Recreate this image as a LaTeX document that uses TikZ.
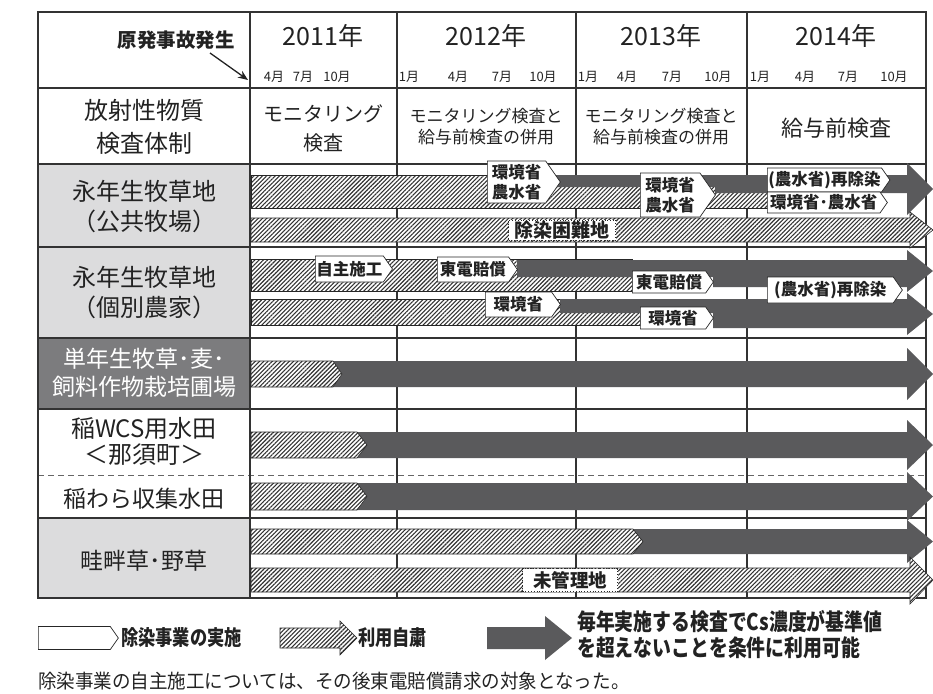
\documentclass[tikz,border=0pt]{standalone}
\usepackage{fontspec}
\setmainfont{Noto Sans CJK JP}
\newfontfamily\legfont{Noto Sans CJK JP}[FakeStretch=0.82]
\newfontfamily\footfont{Noto Sans CJK JP}[FakeStretch=0.95]
\usetikzlibrary{patterns.meta,shapes.symbols,arrows.meta}
\definecolor{dkg}{HTML}{5A5A5C}
\definecolor{ltg}{HTML}{DCDCDD}
\definecolor{mdg}{HTML}{7C7C7E}
\definecolor{txt}{HTML}{222222}
\newcommand{\fsz}[2]{\fontsize{#1}{#2}\selectfont}
\tikzset{
  gridline/.style={draw=black!80, line width=1.1pt},
  hatch/.style={draw=black!85, line width=0.6pt, preaction={fill=white},
    pattern={Lines[angle=45,distance=3pt,line width=1.1pt]}, pattern color=black!80},
  tag/.style={shape=signal, signal to=east, signal pointer angle=110, draw=black!85,
    line width=0.7pt, fill=white, align=center, inner sep=1pt, text=txt,
    font=\bfseries\fsz{16.5}{20}, anchor=west},
  lbox/.style={draw=black!85, dotted, line width=0.8pt, fill=white, text=txt,
    font=\bfseries\fsz{19}{20}, inner sep=0pt},
  yr/.style={font=\fsz{25}{28}, text=txt},
  mo/.style={font=\fsz{13}{14}, text=txt, inner sep=0pt},
  hd/.style={font=\fsz{24}{33}, text=txt, align=center},
  rl/.style={font=\fsz{24}{30}, text=txt, align=center},
  legt/.style={font=\legfont\bfseries\fsz{21}{24}, text=txt, inner sep=0pt, anchor=west},
}
\begin{document}
\begin{tikzpicture}[x=1pt,y=-1pt]
\useasboundingbox (0,0) rectangle (933,693);
% label column fills
\fill[ltg] (38,164) rectangle (250,338);
\fill[mdg] (38,338) rectangle (250,409);
\fill[ltg] (38,518) rectangle (250,598);
% grid
\foreach \y in {88,164,247,338,409,518} \draw[gridline] (38,\y) -- (926,\y);
\draw[black!60, line width=1pt, dash pattern=on 6pt off 4pt] (38,475) -- (926,475);
\foreach \x in {250,397,576,747} \draw[gridline] (\x,12) -- (\x,598);
\draw[gridline] (38,12) rectangle (926,598);
% header
\node[font=\bfseries\fsz{19.5}{22}, text=txt] (jiko) at (176,40) {原発事故発生};
\coordinate (accs) at (210,53);
\coordinate (acce) at (248,80);
\draw[-{Stealth[length=10pt,width=8pt]}, line width=1.3pt, txt] (accs) -- (acce);
\node[yr] (y11) at (323,36) {2011年};
\node[yr] (y12) at (486,36) {2012年};
\node[yr] (y13) at (661,36) {2013年};
\node[yr] (y14) at (836,36) {2014年};
\node[mo] (m1) at (274,77) {4月};
\node[mo] (m2) at (303,77) {7月};
\node[mo] (m3) at (337,77) {10月};
\node[mo] (m4) at (409,77) {1月};
\node[mo] (m5) at (458,77) {4月};
\node[mo] (m6) at (502,77) {7月};
\node[mo] (m7) at (543,77) {10月};
\node[mo] (m8) at (588,77) {1月};
\node[mo] (m9) at (627,77) {4月};
\node[mo] (m10) at (672,77) {7月};
\node[mo] (m11) at (718,77) {10月};
\node[mo] (m12) at (760,77) {1月};
\node[mo] (m13) at (805,77) {4月};
\node[mo] (m14) at (848,77) {7月};
\node[mo] (m15) at (894,77) {10月};
% inspection system row
\node[hd] (sys) at (144,127) {放射性物質\\検査体制};
\node[font=\fsz{20}{29}, text=txt, align=center] (s11) at (323,128) {モニタリング\\検査};
\node[font=\fsz{17}{21}, text=txt, align=center] (s12) at (486,127) {モニタリング検査と\\給与前検査の併用};
\node[font=\fsz{17}{21}, text=txt, align=center] (s13) at (661,127) {モニタリング検査と\\給与前検査の併用};
\node[font=\fsz{22}{26}, text=txt] (s14) at (836,128) {給与前検査};
% row labels
\node[rl] (r1) at (144,207) {永年生牧草地\\（公共牧場）};
\node[rl] (r2) at (144,292.5) {永年生牧草地\\（個別農家）};
\node[font=\fsz{23}{28}, text=white, align=center] (r3) at (144,373) {単年生牧草･麦･\\飼料作物栽培圃場};
\node[font=\fsz{24}{26}, text=txt, align=center] (r4) at (144,441) {稲WCS用水田\\＜那須町＞};
\node[font=\fsz{23}{26}, text=txt] (r5) at (144,499) {稲わら収集水田};
\node[font=\fsz{23}{26}, text=txt] (r6) at (144,561) {畦畔草･野草};
% ---- row 1 (public pasture)
\path[hatch] (251,175) rectangle (768,208);
\fill[dkg] (545,175) -- (907,175) -- (907,163) -- (933,189) -- (907,215) -- (907,193) -- (715,193) -- (715,187) -- (545,187) -- cycle;
\node[tag, minimum width=73, minimum height=42] (a1) at (487,182) {環境省\\農水省};
\node[tag, minimum width=75, minimum height=44] (a2) at (640,195) {環境省\\農水省};
\node[tag, minimum width=121, minimum height=24] (a3) at (767,180) {(農水省)再除染};
\node[tag, minimum width=120, minimum height=21] (a4) at (767,202.5) {環境省･農水省};
\path[hatch] (251,218) -- (910,218) -- (910,212) -- (933,230) -- (910,248) -- (910,242) -- (251,242) -- cycle;
\node[lbox, minimum width=107, minimum height=20] (konnan) at (562,230) {除染困難地};
% ---- row 2 (individual farms)
\path[hatch] (251,259) rectangle (632,291);
\fill[dkg] (517,260) -- (907,260) -- (907,250) -- (933,271) -- (907,292) -- (907,287) -- (713,287) -- (713,277) -- (517,277) -- cycle;
\path[hatch] (251,299) rectangle (640,325);
\fill[dkg] (560,299) -- (907,299) -- (907,293) -- (933,314) -- (907,335) -- (907,328) -- (713,328) -- (713,313) -- (560,313) -- cycle;
\node[tag, minimum width=75, minimum height=26] (b1) at (315,269) {自主施工};
\node[tag, minimum width=80, minimum height=25] (b2) at (437,269.5) {東電賠償};
\node[tag, minimum width=81, minimum height=22] (b3) at (632,282) {東電賠償};
\node[tag, minimum width=75, minimum height=25] (b4) at (485,304.5) {環境省};
\node[tag, minimum width=73, minimum height=22] (b5) at (640,318) {環境省};
\node[tag, minimum width=135, minimum height=26] (b6) at (767,290) {(農水省)再除染};
% ---- row 3
\fill[dkg] (333,361) -- (907,361) -- (907,348) -- (933,374) -- (907,400) -- (907,387) -- (333,387) -- cycle;
\path[hatch] (251,361) -- (333,361) -- (342,374) -- (333,387) -- (251,387) -- cycle;
% ---- row 4
\fill[dkg] (357,432) -- (907,432) -- (907,420) -- (933,445) -- (907,470) -- (907,458) -- (357,458) -- cycle;
\path[hatch] (251,432) -- (357,432) -- (367,445) -- (357,458) -- (251,458) -- cycle;
% ---- row 5
\fill[dkg] (357,483) -- (907,483) -- (907,472) -- (933,496.5) -- (907,521) -- (907,510) -- (357,510) -- cycle;
\path[hatch] (251,483) -- (357,483) -- (367,496.5) -- (357,510) -- (251,510) -- cycle;
% ---- row 6
\fill[dkg] (633,529) -- (907,529) -- (907,520) -- (933,541.5) -- (907,563) -- (907,554) -- (633,554) -- cycle;
\path[hatch] (251,529) -- (633,529) -- (643,541.5) -- (633,554) -- (251,554) -- cycle;
\path[hatch] (251,568) -- (910,568) -- (910,557) -- (933,580) -- (910,604) -- (910,592) -- (251,592) -- cycle;
\node[lbox, minimum width=95, minimum height=23, font=\bfseries\fsz{18.5}{20}] (mikanri) at (570,580) {未管理地};
% ---- legend
\node[tag, minimum width=80, minimum height=23] (lg1) at (38,638) {};
\node[legt] (lg1t) at (121,638) {除染事業の実施};
\path[hatch] (280,628) -- (340,628) -- (340,621) -- (357,638) -- (340,655) -- (340,648) -- (280,648) -- cycle;
\node[legt] (lg2t) at (358,638) {利用自粛};
\fill[dkg] (487,627) -- (545,627) -- (545,616) -- (572,638) -- (545,660) -- (545,649) -- (487,649) -- cycle;
\node[font=\legfont\bfseries\fsz{23}{26}, text=txt, inner sep=0pt, anchor=west, align=left] (lg3t) at (577,635) {毎年実施する検査でCs濃度が基準値\\を超えないことを条件に利用可能};
\node[font=\footfont\fsz{19.5}{22}, text=txt, inner sep=0pt, anchor=west] (foot) at (38,681) {除染事業の自主施工については、その後東電賠償請求の対象となった。};
\end{tikzpicture}
\end{document}
